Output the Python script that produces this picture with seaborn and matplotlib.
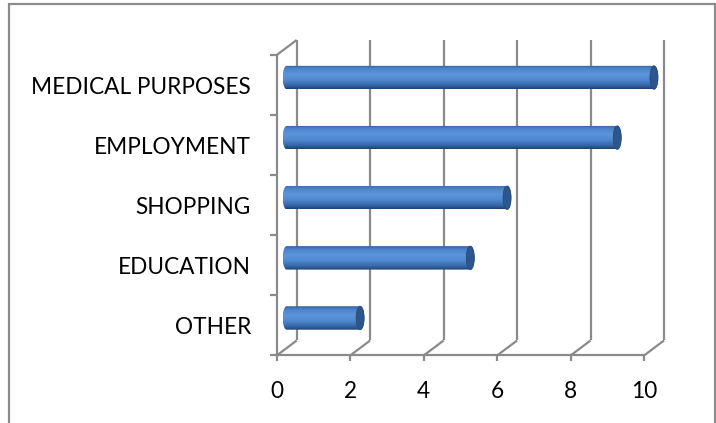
import numpy as np
import pandas as pd
import matplotlib
matplotlib.use("Agg")
import matplotlib.pyplot as plt
from matplotlib.colors import LinearSegmentedColormap
from matplotlib.patches import PathPatch, Ellipse, Rectangle
from matplotlib.path import Path
from matplotlib.lines import Line2D
import seaborn as sns

# Data
categories = ["MEDICAL PURPOSES", "EMPLOYMENT", "SHOPPING", "EDUCATION", "OTHER"]
values = [10, 9, 6, 5, 2]
x_ticks = [0, 2, 4, 6, 8, 10]
x_tick_labels = ["0", "2", "4", "6", "8", "10"]

df = pd.DataFrame({"reason": categories, "count": values})

sns.set_theme(style="white")
plt.rcParams["font.family"] = ["Lato", "DejaVu Sans"]

W, H, DPI = 716, 423, 100
fig = plt.figure(figsize=(W / DPI, H / DPI), dpi=DPI)

# Mid-depth plane of the pseudo-3D box: value 0 -> x0_px, value 10 -> x10_px
x0_px, x10_px = 286.7, 654.0
ax_top, ax_bottom = 47.5, 348.0
px_x = (x10_px - x0_px) / 10.0
px_y = (ax_bottom - ax_top) / 5.0
dx = 10.0 / px_x      # half-depth shift along x (pixels -> data)
dy = 7.5 / px_y       # half-depth shift along y

# axes reaches out to the front plane so the "0" tick stays in view
ax_left = x0_px - 10.0
ax = fig.add_axes([ax_left / W, 1 - ax_bottom / H,
                   (x10_px - ax_left) / W, (ax_bottom - ax_top) / H])

sns.barplot(data=df, x="count", y="reason", orient="h", width=0.39,
            color="#4f81bd", ax=ax, zorder=3)

grid_c = "#8a8a8a"
lw = 1.6


def line(xs, ys):
    ax.add_line(Line2D(xs, ys, color=grid_c, lw=lw, clip_on=False, zorder=1,
                       solid_capstyle="butt"))


# back wall gridlines
for v in x_ticks:
    line([v + dx, v + dx], [-0.5 - dy, 4.5 - dy])
# floor diagonals from the front axis to the back wall
for v in x_ticks:
    line([v - dx, v + dx], [4.5 + dy, 4.5 - dy])
# top-left diagonal of the side wall
line([-dx, dx], [-0.5 + dy, -0.5 - dy])
# front axes
line([-dx, -dx], [-0.5 + dy, 4.5 + dy])
line([-dx, 10 - dx], [4.5 + dy, 4.5 + dy])
# tick marks on the front axes
tick_x = 7.0 / px_x
tick_y = 6.0 / px_y
for b in np.arange(-0.5, 4.6, 1.0):
    line([-dx - tick_x, -dx], [b + dy, b + dy])
for v in x_ticks:
    line([v - dx, v - dx], [4.5 + dy, 4.5 + dy + tick_y])

# cylinder shading for each bar
shade = LinearSegmentedColormap.from_list(
    "cyl",
    [(0.0, "#2f5e9e"), (0.12, "#4a80c8"), (0.38, "#5d95dc"),
     (0.62, "#4f88cf"), (0.85, "#3466a6"), (1.0, "#1f416f")])
grad = np.linspace(0, 1, 200).reshape(-1, 1)
ew = 4.0 / px_x   # half-width of the end ellipses

for bar in list(ax.patches):
    x0, y0 = bar.get_x(), bar.get_y()
    w, h = bar.get_width(), bar.get_height()
    yc = y0 + h / 2
    bar.set_alpha(0)
    t1 = np.linspace(-np.pi / 2, np.pi / 2, 40)
    t2 = np.linspace(np.pi / 2, 3 * np.pi / 2, 40)
    right = np.column_stack([x0 + w + ew * np.cos(t1), yc + (h / 2) * np.sin(t1)])
    left = np.column_stack([x0 + ew * np.cos(t2), yc + (h / 2) * np.sin(t2)])
    verts = np.vstack([right, left, right[:1]])
    clip = PathPatch(Path(verts), transform=ax.transData, facecolor="none",
                     edgecolor="none", clip_on=False)
    ax.add_patch(clip)
    im = ax.imshow(grad, cmap=shade, aspect="auto", interpolation="bilinear",
                   extent=[x0 - ew, x0 + w + ew, y0 + h, y0], zorder=4)
    im.set_clip_box(fig.bbox)
    im.set_clip_path(clip)
    cap = Ellipse((x0 + w, yc), 2 * ew, h, facecolor="#2e558c",
                  edgecolor="#274a7c", lw=0.6, zorder=5, clip_on=False)
    ax.add_patch(cap)

# category labels sit at the front plane
ax.set_yticks([i + dy for i in range(len(categories))], categories)
ax.set_xticks([v - dx for v in x_ticks], x_tick_labels)
ax.tick_params(axis="both", length=0, labelsize=16.3, colors="black")
ax.tick_params(axis="y", pad=18.5)
ax.tick_params(axis="x", pad=24)
ax.set_xlabel("")
ax.set_ylabel("")
for s in ax.spines.values():
    s.set_visible(False)
ax.set_facecolor("none")
ax.set_aspect("auto")
ax.set_xlim(-dx, 10)
ax.set_ylim(4.5, -0.5)

# chart area border
fig.add_artist(Rectangle((8.5 / W, -0.05), (714.5 - 8.5) / W, 1.05 - 4.5 / H,
                         transform=fig.transFigure, fill=False,
                         edgecolor="#8c8c8c", lw=1.6))

fig.savefig("out.png", dpi=DPI)
